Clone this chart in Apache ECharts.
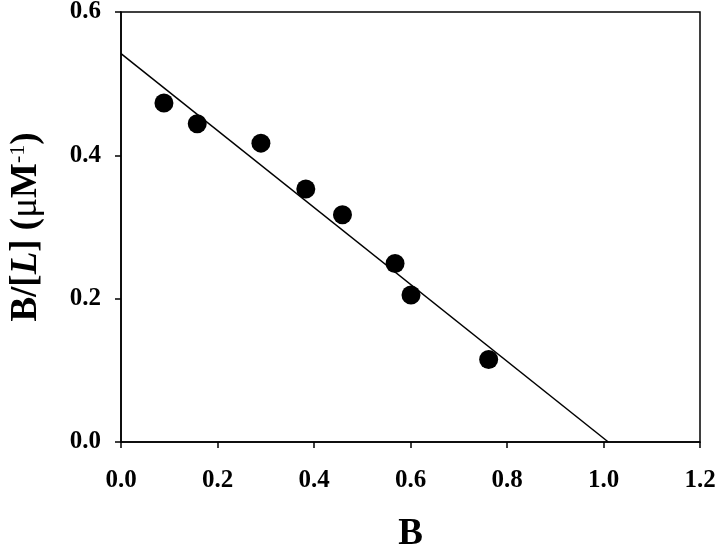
<!DOCTYPE html>
<html>
<head>
<meta charset="utf-8">
<script src="https://cdn.jsdelivr.net/npm/echarts@6.0.0/dist/echarts.min.js"></script>
<style>
  html, body { margin: 0; padding: 0; background: #fff; }
  #chart { width: 720px; height: 546px; }
</style>
</head>
<body>
<div id="chart"></div>
<script>
(function () {
  'use strict';

  // Scatchard data
  var boundX = [0.089, 0.158, 0.290, 0.383, 0.459, 0.568, 0.601, 0.762];
  var ratioY = [0.473, 0.444, 0.417, 0.353, 0.317, 0.249, 0.205, 0.115];

  // fitted line endpoints (y-intercept and x-intercept)
  var fitX = [0, 1.01];
  var fitY = [0.542, 0];

  var FONT = '"Liberation Serif", "Times New Roman", serif';

  function pairs(xs, ys) {
    return xs.map(function (x, i) { return [x, ys[i]]; });
  }

  function axisBase(max) {
    return {
      type: 'value',
      min: 0,
      max: max,
      interval: 0.2,
      splitLine: { show: false },
      axisLine: { show: true, lineStyle: { color: '#000', width: 1.5 } },
      axisTick: { show: true, length: 6, lineStyle: { color: '#000', width: 1.5 } },
      axisLabel: {
        color: '#000',
        fontFamily: FONT,
        fontWeight: 'bold',
        fontSize: 25,
        formatter: function (v) { return v.toFixed(1); }
      }
    };
  }

  var chart = echarts.init(document.getElementById('chart'));

  var xAxis = axisBase(1.2);
  xAxis.axisLabel.margin = 26;
  xAxis.name = 'B';
  xAxis.nameLocation = 'middle';
  xAxis.nameGap = 74;
  xAxis.nameTextStyle = { color: '#000', fontFamily: FONT, fontWeight: 'bold', fontSize: 37 };

  var yAxis = axisBase(0.6);
  yAxis.axisLabel.margin = 20;
  yAxis.name = '{b|B/[}{i|L}{b|] (}{m|μ}{b|M}{s|-1}{b|)}';
  yAxis.nameLocation = 'middle';
  yAxis.nameRotate = 90;
  yAxis.nameGap = 76;
  yAxis.nameTextStyle = {
    color: '#000', fontFamily: FONT, fontWeight: 'bold', fontSize: 37,
    rich: {
      b: { color: '#000', fontFamily: FONT, fontWeight: 'bold', fontSize: 37 },
      i: { color: '#000', fontFamily: FONT, fontWeight: 'bold', fontStyle: 'italic', fontSize: 37 },
      m: { color: '#000', fontFamily: FONT, fontWeight: 'normal', fontSize: 37 },
      s: { color: '#000', fontFamily: FONT, fontWeight: 'normal', fontSize: 22, verticalAlign: 'top', padding: [0, 0, 16, 0] }
    }
  };

  chart.setOption({
    backgroundColor: '#fff',
    animation: false,
    grid: {
      left: 121, right: 20, top: 12, bottom: 104,
      outerBoundsMode: 'none',
      containLabel: false,
      show: true, borderColor: '#000', borderWidth: 1.5
    },
    xAxis: xAxis,
    yAxis: yAxis,
    series: [
      {
        type: 'line',
        data: pairs(fitX, fitY),
        showSymbol: false,
        lineStyle: { color: '#000', width: 1.5 },
        z: 2
      },
      {
        type: 'scatter',
        data: pairs(boundX, ratioY),
        symbol: 'circle',
        symbolSize: 19,
        itemStyle: { color: '#000', opacity: 1 },
        z: 3
      }
    ]
  });
})();
</script>
</body>
</html>
